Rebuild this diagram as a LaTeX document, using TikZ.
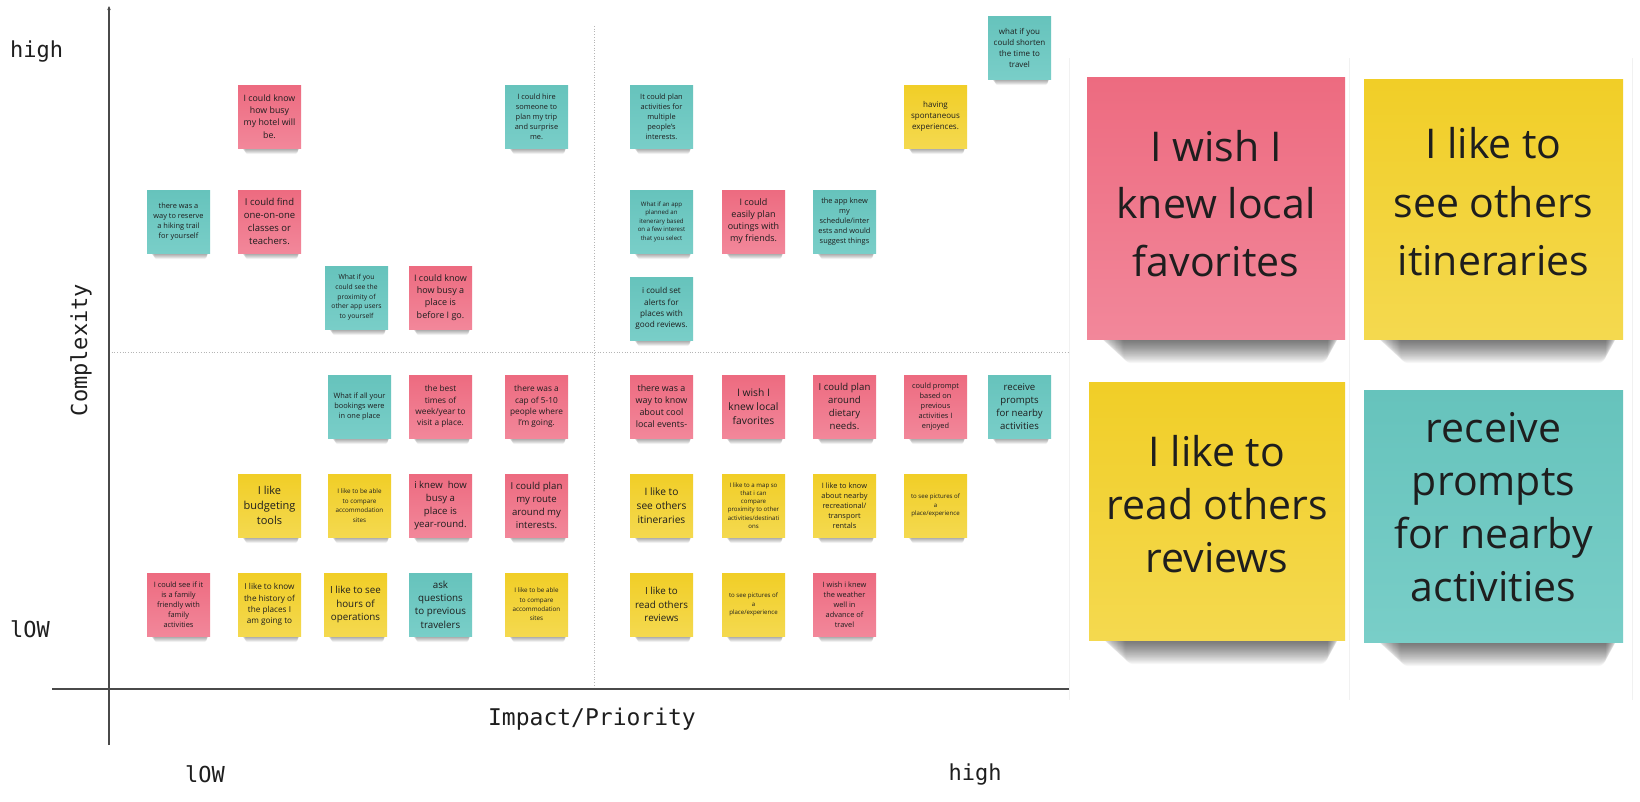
\documentclass[tikz,border=0pt]{standalone}
\usepackage{fontspec}
\setmainfont{Open Sans}
\newfontfamily\axisfont{DejaVu Sans Mono}
\usetikzlibrary{arrows.meta}

\definecolor{pinktop}{HTML}{ED6B80}
\definecolor{pinkbot}{HTML}{F2879A}
\definecolor{yellowtop}{HTML}{F1CE27}
\definecolor{yellowbot}{HTML}{F4D94F}
\definecolor{tealtop}{HTML}{66C3BC}
\definecolor{tealbot}{HTML}{79CEC8}
\definecolor{inktext}{HTML}{1E1E1E}
\definecolor{axisgray}{HTML}{4A4A4A}
\definecolor{guidegray}{HTML}{B5B5B5}
\definecolor{panelgray}{HTML}{F1F1F1}

\newcommand{\fs}[2]{\fontsize{#1}{#2}\selectfont}

% note body: name, left x, top y, width, height, colour, font, text, text lift
\newcommand{\notebody}[9]{%
  \node[stickynote, top color=#6top, bottom color=#6bot,
        minimum width=#4pt, minimum height=#5pt,
        label={[notelabel, font=#7, yshift=#9pt]center:{#8}}]
        (#1) at (#2+#4/2, #3+#5/2) {};
}
% small note with its soft shadow: name, x, y, colour, font, text
\newcommand{\snote}[6]{%
  \foreach \k in {1,...,10}{%
    \fill[black, opacity=0.045, rounded corners=2pt]
      (#2+3+\k*0.45, #3+58) rectangle (#2+62-\k*0.25, #3+63+\k*0.6);}
  \notebody{#1}{#2}{#3}{63}{63}{#4}{#5}{#6}{0}}
% large note with its soft shadow: name, x, y, w, h, colour, font, text, text lift
\newcommand{\bnote}[9]{%
  \foreach \k in {1,...,22}{%
    \fill[black, opacity=0.03, rounded corners=8pt]
      (#2+10+\k*1.2, #3+#5-12) rectangle (#2+#4-4-\k*0.6, #3+#5+\k*1.1);}
  \notebody{#1}{#2}{#3}{#4}{#5}{#6}{#7}{#8}{#9}}

\tikzset{
  stickynote/.style={draw=none, inner sep=0pt},
  notelabel/.style={inner sep=0pt, align=center, text=inktext},
  axisline/.style={draw=axisgray, line width=1.1pt},
  guideline/.style={draw=guidegray, line width=0.7pt, dotted},
  panelline/.style={draw=panelgray, line width=0.8pt},
  axislabel/.style={text=inktext, font=\axisfont\fontsize{22}{26}\selectfont, inner sep=0pt},
}

\begin{document}
\begin{tikzpicture}[x=1pt, y=-1pt]
\useasboundingbox (0,0) rectangle (1640,801);
\fill[white] (0,0) rectangle (1640,801);

% faint board panels
\draw[panelline] (1069,58) -- (1069,700);
\draw[panelline] (1349,58) -- (1349,700);
\draw[panelline] (1632,58) -- (1632,700);

% axes and quadrant guides
\coordinate (ytop) at (109,6);
\coordinate (ybot) at (109,745);
\coordinate (xleft) at (52,689);
\coordinate (xright) at (1069,689);
\coordinate (midL) at (109,352);
\coordinate (midR) at (1069,352);
\coordinate (midT) at (594,26);
\coordinate (midB) at (594,689);
\draw[guideline] (midL) -- (midR);
\draw[guideline] (midT) -- (midB);
\draw[axisline] (xleft) -- (xright);
\draw[axisline, -{Stealth[length=4pt, width=3.5pt]}] (ybot) -- (ytop);

% axis labels
\node[axislabel, anchor=base west] (yhigh) at (10,57) {high};
\node[axislabel, anchor=base west] (ylow) at (10,637) {lOW};
\node[axislabel, rotate=90] (ytitle) at (81,350) {Complexity};
\node[axislabel, font=\axisfont\fontsize{23}{26}\selectfont] (xtitle) at (592,719) {Impact/Priority};
\node[axislabel] (xlow) at (205,774) {lOW};
\node[axislabel] (xhigh) at (975,774) {high};

% top left quadrant
\snote{n1}{238}{85}{pink}{\fs{8.8}{12.3}}{I could know\\how busy\\my hotel will\\be.}
\snote{n2}{505}{85}{teal}{\fs{7.4}{10}}{I could hire\\someone to\\plan my trip\\and surprise\\me.}
\snote{n3}{147}{190}{teal}{\fs{7.4}{10}}{there was a\\way to reserve\\a hiking trail\\for yourself}
\snote{n4}{238}{190}{pink}{\fs{9.5}{13}}{I could find\\one-on-one\\classes or\\teachers.}
\snote{n5}{325}{266}{teal}{\fs{6.8}{9.7}}{What if you\\could see the\\proximity of\\other app users\\to yourself}
\snote{n6}{409}{266}{pink}{\fs{9}{12.2}}{I could know\\how busy a\\place is\\before I go.}

% top right quadrant
\snote{n7}{988}{16}{teal}{\fs{8}{11}}{what if you\\could shorten\\the time to\\travel}
\snote{n8}{630}{85}{teal}{\fs{7.4}{10}}{It could plan\\activities for\\multiple\\people's\\interests.}
\snote{n9}{904}{85}{yellow}{\fs{8}{11}}{having\\spontaneous\\experiences.}
\snote{n10}{630}{190}{teal}{\fs{6.1}{8.5}}{What if an app\\planned an\\itenerary based\\on a few interest\\that you select}
\snote{n11}{722}{190}{pink}{\fs{9}{12.1}}{I could\\easily plan\\outings with\\my friends.}
\snote{n12}{813}{190}{teal}{\fs{7.4}{10.2}}{the app knew\\my\\schedule/inter\\ests and would\\suggest things}
\snote{n13}{630}{277}{teal}{\fs{8.2}{11.1}}{i could set\\alerts for\\places with\\good reviews.}

% bottom left quadrant
\snote{n14}{328}{375}{teal}{\fs{7.4}{10.2}}{What if all your\\bookings were\\in one place}
\snote{n15}{409}{375}{pink}{\fs{8.3}{11.2}}{the best\\times of\\week/year to\\visit a place.}
\snote{n16}{505}{375}{pink}{\fs{8.3}{11.2}}{there was a\\cap of 5-10\\people where\\I'm going.}
\snote{n17}{238}{474}{yellow}{\fs{11}{14.8}}{I like\\budgeting\\tools}
\snote{n18}{328}{474}{yellow}{\fs{6.3}{9.6}}{I like to be able\\to compare\\accommodation\\sites}
\snote{n19}{409}{474}{pink}{\fs{9.6}{13}}{i knew~ how\\busy a\\place is\\year-round.}
\snote{n20}{505}{474}{pink}{\fs{9.6}{13}}{I could plan\\my route\\around my\\interests.}
\snote{n21}{147}{573}{pink}{\fs{7.4}{10}}{I could see if it\\is a family\\friendly with\\family\\activities}
\snote{n22}{238}{573}{yellow}{\fs{8.2}{11.1}}{I like to know\\the history of\\the places I\\am going to}
\snote{n23}{324}{573}{yellow}{\fs{9.8}{13.3}}{I like to see\\hours of\\operations}
\snote{n24}{409}{573}{teal}{\fs{9.8}{13.3}}{ask\\questions\\to previous\\travelers}
\snote{n25}{505}{573}{yellow}{\fs{6.3}{9.3}}{I like to be able\\to compare\\accommodation\\sites}

% bottom right quadrant
\snote{n26}{630}{375}{pink}{\fs{8.9}{12.1}}{there was a\\way to know\\about cool\\local events-}
\snote{n27}{722}{375}{pink}{\fs{10.3}{14}}{I wish I\\knew local\\favorites}
\snote{n28}{813}{375}{pink}{\fs{9.6}{13.1}}{I could plan\\around\\dietary\\needs.}
\snote{n29}{904}{375}{pink}{\fs{7.4}{10}}{could prompt\\based on\\previous\\activities I\\enjoyed}
\snote{n30}{988}{375}{teal}{\fs{9.6}{13.1}}{receive\\prompts\\for nearby\\activities}
\snote{n31}{630}{474}{yellow}{\fs{10.2}{13.8}}{I like to\\see others\\itineraries}
\snote{n32}{722}{474}{yellow}{\fs{6.1}{8.3}}{I like to a map so\\that i can\\compare\\proximity to other\\activities/destinati\\ons}
\snote{n33}{813}{474}{yellow}{\fs{7.4}{10}}{I like to know\\about nearby\\recreational/\\transport\\rentals}
\snote{n34}{904}{474}{yellow}{\fs{6.1}{8.3}}{to see pictures of\\a\\place/experience}
\snote{n35}{630}{573}{yellow}{\fs{9.8}{13.3}}{I like to\\read others\\reviews}
\snote{n36}{722}{573}{yellow}{\fs{6.1}{8.3}}{to see pictures of\\a\\place/experience}
\snote{n37}{813}{573}{pink}{\fs{7.4}{10}}{I wish i knew\\the weather\\well in\\advance of\\travel}

% highlighted themes (the last argument lifts the text above the centre)
\bnote{big1}{1087}{77}{258}{262}{pink}{\fs{41}{57.5}}{I wish I\\knew local\\favorites}{4.7}
\bnote{big2}{1364}{79}{259}{260}{yellow}{\fs{41}{58.5}}{I like to\\see others\\itineraries}{7}
\bnote{big3}{1089}{382}{256}{258}{yellow}{\fs{41}{53}}{I like to\\read others\\reviews}{7.3}
\bnote{big4}{1364}{390}{259}{252}{teal}{\fs{41}{53.3}}{receive\\prompts\\for nearby\\activities}{8.9}
\end{tikzpicture}
\end{document}
